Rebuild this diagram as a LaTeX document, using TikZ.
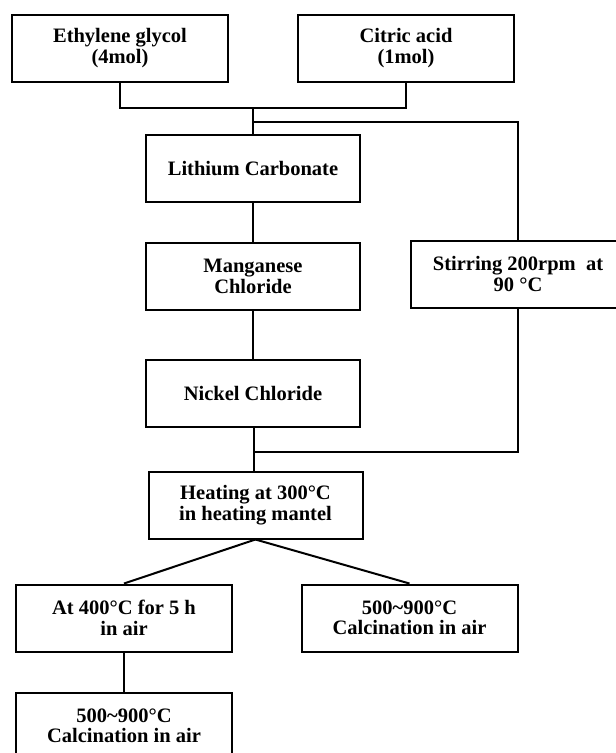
\documentclass[tikz,border=0pt]{standalone}
\usepackage{fontspec}
\setmainfont{Liberation Serif}
\usetikzlibrary{positioning}

\begin{document}
\begin{tikzpicture}[x=1pt, y=-1pt, node distance=39pt,
    box/.style={draw, line width=2pt, rectangle, minimum width=216pt, minimum height=67pt, align=center, inner sep=2pt, font=\bfseries\fontsize{20.5}{20.5}\selectfont},
    link/.style={line width=2pt}]
    \useasboundingbox (0,0) rectangle (616,753);

    \node (eg) [box] at (120,48) {Ethylene glycol\\(4mol)};
    \node (ca) [box] at (406,48) {Citric acid\\(1mol)};
    \node (li) [box, minimum width=214pt] at (253,168.5) {Lithium Carbonate};
    \node (mn) [box, minimum width=214pt, below=of li] {Manganese\\Chloride};
    \node (ni) [box, minimum width=214pt, below=48pt of mn] {Nickel Chloride};
    \node (stir) [box, minimum width=214pt] at (518,274) {Stirring 200rpm\ \ at\\90 °C};
    \node (heat) [box, minimum width=214pt] at (255.5,505) {Heating at 300°C\\in heating mantel};
    \node (at400) [box] at (124,618) {At 400°C for 5 h\\in air};
    \node (calcr) [box] at (409.5,618) {500\textasciitilde900°C\\Calcination in air};
    \node (calcl) [box, below=of at400] {500\textasciitilde900°C\\Calcination in air};

    % joins between the steps
    \coordinate (mix) at (253,108);
    \coordinate (split) at (253,122);
    \coordinate (merge) at (254,452);

    \draw[link] (eg.south) |- (mix) -| (ca.south);
    \draw[link] (mix) -- (li.north);
    \draw[link] (split) -| (stir.north);
    \draw[link] (li) -- (mn);
    \draw[link] (mn) -- (ni);
    \draw[link] (ni.south -| merge) -- (merge) -- (merge |- heat.north);
    \draw[link] (stir.south) |- (merge);
    \draw[link] (heat.south) -- (at400.north);
    \draw[link] (heat.south) -- (calcr.north);
    \draw[link] (at400) -- (calcl);
\end{tikzpicture}
\end{document}
